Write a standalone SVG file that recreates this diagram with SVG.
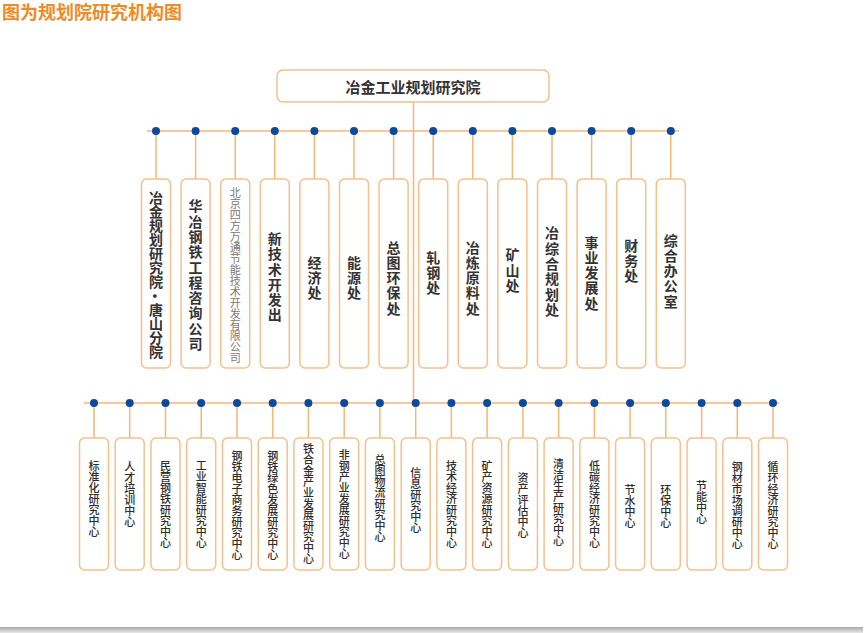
<svg xmlns="http://www.w3.org/2000/svg" width="864" height="633" viewBox="0 0 864 633">
<defs>
<style>
.box{fill:#fff;stroke:#f7c08a;stroke-width:1.5}
.ln{stroke:#f6b678;stroke-width:1.5;fill:none}
.dot{fill:#0b4a9c}
.t{font-family:"Noto Sans CJK SC","Noto Sans",sans-serif;fill:#333;writing-mode:vertical-rl;text-anchor:middle;dominant-baseline:central}
.tb{font-size:14px;font-weight:bold;letter-spacing:1.3px}
.ts{font-size:11px;font-weight:500;fill:#2e2e2e}
.tg{font-size:11px;font-weight:normal;fill:#7a7a7a}
</style>
<linearGradient id="sh" x1="0" y1="0" x2="0" y2="1">
<stop offset="0" stop-color="#a8a8a8"/>
<stop offset="1" stop-color="#e8e8e8"/>
</linearGradient>
</defs>
<rect width="864" height="633" fill="#fff"/>
<text x="2" y="19" font-family="Noto Sans CJK SC,sans-serif" font-size="18" font-weight="bold" fill="#f08a26">图为规划院研究机构图</text>
<rect x="0" y="627" width="863" height="6" fill="url(#sh)"/>

<g id="connectors">
<line class="ln" x1="413.5" y1="102" x2="413.5" y2="403"/>
<line class="ln" x1="147" y1="131" x2="679" y2="131"/>
<line class="ln" x1="84" y1="403" x2="779" y2="403"/>
<g class="ln">
<path d="M156 131V179M195.6 131V179M235.2 131V179M274.8 131V179M314.4 131V179M354 131V179M393.6 131V179M433.2 131V179M472.8 131V179M512.4 131V179M552 131V179M591.6 131V179M631.2 131V179M670.8 131V179"/>
<path d="M94 403V438M129.7 403V438M165.5 403V438M201.2 403V438M237 403V438M272.7 403V438M308.4 403V438M344.2 403V438M379.9 403V438M415.7 403V438M451.4 403V438M487.1 403V438M522.9 403V438M558.6 403V438M594.4 403V438M630.1 403V438M665.8 403V438M701.6 403V438M737.3 403V438M773 403V438"/>
</g>
<g class="dot">
<circle cx="156" cy="131" r="4"/><circle cx="195.6" cy="131" r="4"/><circle cx="235.2" cy="131" r="4"/><circle cx="274.8" cy="131" r="4"/><circle cx="314.4" cy="131" r="4"/><circle cx="354" cy="131" r="4"/><circle cx="393.6" cy="131" r="4"/><circle cx="433.2" cy="131" r="4"/><circle cx="472.8" cy="131" r="4"/><circle cx="512.4" cy="131" r="4"/><circle cx="552" cy="131" r="4"/><circle cx="591.6" cy="131" r="4"/><circle cx="631.2" cy="131" r="4"/><circle cx="670.8" cy="131" r="4"/>
<circle cx="94" cy="403" r="4"/><circle cx="129.7" cy="403" r="4"/><circle cx="165.5" cy="403" r="4"/><circle cx="201.2" cy="403" r="4"/><circle cx="237" cy="403" r="4"/><circle cx="272.7" cy="403" r="4"/><circle cx="308.4" cy="403" r="4"/><circle cx="344.2" cy="403" r="4"/><circle cx="379.9" cy="403" r="4"/><circle cx="415.7" cy="403" r="4"/><circle cx="451.4" cy="403" r="4"/><circle cx="487.1" cy="403" r="4"/><circle cx="522.9" cy="403" r="4"/><circle cx="558.6" cy="403" r="4"/><circle cx="594.4" cy="403" r="4"/><circle cx="630.1" cy="403" r="4"/><circle cx="665.8" cy="403" r="4"/><circle cx="701.6" cy="403" r="4"/><circle cx="737.3" cy="403" r="4"/><circle cx="773" cy="403" r="4"/>
</g>
</g>

<g id="root">
<rect class="box" x="277" y="70" width="272" height="32" rx="6"/>
<text x="413" y="92.5" font-family="Noto Sans CJK SC,sans-serif" font-size="15" font-weight="bold" fill="#333" text-anchor="middle">冶金工业规划研究院</text>
</g>

<g id="top1"><rect class="box" x="141.5" y="179" width="29" height="189" rx="5"/><text class="t tb" x="156" y="275" style="letter-spacing:0">冶金规划研究院·唐山分院</text></g>
<g id="top2"><rect class="box" x="181.1" y="179" width="29" height="189" rx="5"/><text class="t tb" x="195.6" y="275.5">华冶钢铁工程咨询公司</text></g>
<g id="top3"><rect class="box" x="220.7" y="179" width="29" height="189" rx="5"/><text class="t tg" x="235.2" y="275">北京四方万通节能技术开发有限公司</text></g>
<g id="top4"><rect class="box" x="260.3" y="179" width="29" height="189" rx="5"/><text class="t tb" x="274.8" y="277.5">新技术开发出</text></g>
<g id="top5"><rect class="box" x="299.9" y="179" width="29" height="189" rx="5"/><text class="t tb" x="314.4" y="278.5">经济处</text></g>
<g id="top6"><rect class="box" x="339.5" y="179" width="29" height="189" rx="5"/><text class="t tb" x="354" y="278.5">能源处</text></g>
<g id="top7"><rect class="box" x="379.1" y="179" width="29" height="189" rx="5"/><text class="t tb" x="393.6" y="278.5">总图环保处</text></g>
<g id="top8"><rect class="box" x="418.7" y="179" width="29" height="189" rx="5"/><text class="t tb" x="433.2" y="273.5">轧钢处</text></g>
<g id="top9"><rect class="box" x="458.3" y="179" width="29" height="189" rx="5"/><text class="t tb" x="472.8" y="278.5">冶炼原料处</text></g>
<g id="top10"><rect class="box" x="497.9" y="179" width="29" height="189" rx="5"/><text class="t tb" x="512.4" y="271">矿山处</text></g>
<g id="top11"><rect class="box" x="537.5" y="179" width="29" height="189" rx="5"/><text class="t tb" x="552" y="272">冶综合规划处</text></g>
<g id="top12"><rect class="box" x="577.1" y="179" width="29" height="189" rx="5"/><text class="t tb" x="591.6" y="273.5">事业发展处</text></g>
<g id="top13"><rect class="box" x="616.7" y="179" width="29" height="189" rx="5"/><text class="t tb" x="631.2" y="261.5">财务处</text></g>
<g id="top14"><rect class="box" x="656.3" y="179" width="29" height="189" rx="5"/><text class="t tb" x="670.8" y="271.5">综合办公室</text></g>

<g id="c1"><rect class="box" x="79.5" y="438" width="29" height="132" rx="5"/><text class="t ts" x="94" y="498.5">标准化研究中心</text></g>
<g id="c2"><rect class="box" x="115.2" y="438" width="29" height="132" rx="5"/><text class="t ts" x="129.7" y="494.5">人才培训中心</text></g>
<g id="c3"><rect class="box" x="151" y="438" width="29" height="132" rx="5"/><text class="t ts" x="165.5" y="504.5">民营钢铁研究中心</text></g>
<g id="c4"><rect class="box" x="186.7" y="438" width="29" height="132" rx="5"/><text class="t ts" x="201.2" y="504.5">工业智能研究中心</text></g>
<g id="c5"><rect class="box" x="222.5" y="438" width="29" height="132" rx="5"/><text class="t ts" x="237" y="505">钢铁电子商务研究中心</text></g>
<g id="c6"><rect class="box" x="258.2" y="438" width="29" height="132" rx="5"/><text class="t ts" x="272.7" y="505">钢铁绿色发展研究中心</text></g>
<g id="c7"><rect class="box" x="293.9" y="438" width="29" height="132" rx="5"/><text class="t ts" x="308.4" y="504">铁合金产业发展研究中心</text></g>
<g id="c8"><rect class="box" x="329.7" y="438" width="29" height="132" rx="5"/><text class="t ts" x="344.2" y="504">非钢产业发展研究中心</text></g>
<g id="c9"><rect class="box" x="365.4" y="438" width="29" height="132" rx="5"/><text class="t ts" x="379.9" y="498.5">总图物流研究中心</text></g>
<g id="c10"><rect class="box" x="401.2" y="438" width="29" height="132" rx="5"/><text class="t ts" x="415.7" y="500.5">信息研究中心</text></g>
<g id="c11"><rect class="box" x="436.9" y="438" width="29" height="132" rx="5"/><text class="t ts" x="451.4" y="504.5">技术经济研究中心</text></g>
<g id="c12"><rect class="box" x="472.6" y="438" width="29" height="132" rx="5"/><text class="t ts" x="487.1" y="504">矿产资源研究中心</text></g>
<g id="c13"><rect class="box" x="508.4" y="438" width="29" height="132" rx="5"/><text class="t ts" x="522.9" y="505">资产评估中心</text></g>
<g id="c14"><rect class="box" x="544.1" y="438" width="29" height="132" rx="5"/><text class="t ts" x="558.6" y="502.5">清洁生产研究中心</text></g>
<g id="c15"><rect class="box" x="579.9" y="438" width="29" height="132" rx="5"/><text class="t ts" x="594.4" y="504.5">低碳经济研究中心</text></g>
<g id="c16"><rect class="box" x="615.6" y="438" width="29" height="132" rx="5"/><text class="t ts" x="630.1" y="506.5">节水中心</text></g>
<g id="c17"><rect class="box" x="651.3" y="438" width="29" height="132" rx="5"/><text class="t ts" x="665.8" y="506">环保中心</text></g>
<g id="c18"><rect class="box" x="687.1" y="438" width="29" height="132" rx="5"/><text class="t ts" x="701.6" y="502.5">节能中心</text></g>
<g id="c19"><rect class="box" x="722.8" y="438" width="29" height="132" rx="5"/><text class="t ts" x="737.3" y="505">钢材市场调研中心</text></g>
<g id="c20"><rect class="box" x="758.5" y="438" width="29" height="132" rx="5"/><text class="t ts" x="773" y="505">循环经济研究中心</text></g>
</svg>
